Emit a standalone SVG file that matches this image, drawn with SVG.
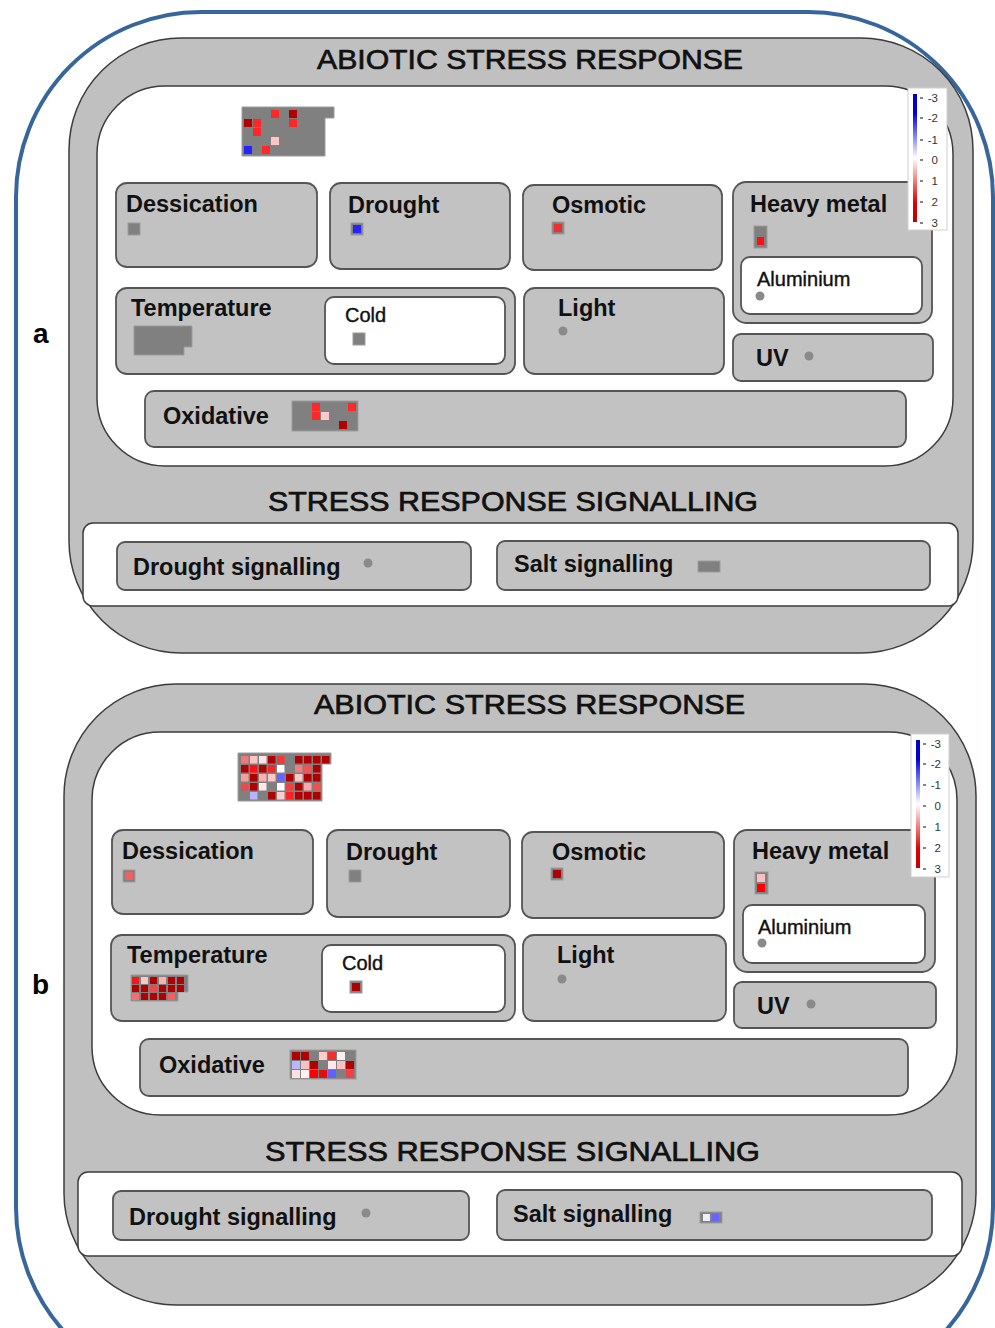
<svg xmlns="http://www.w3.org/2000/svg" width="995" height="1328" viewBox="0 0 995 1328">
<defs>
<linearGradient id="scale" x1="0" y1="0" x2="0" y2="1">
<stop offset="0" stop-color="#0000c0"/>
<stop offset="0.15" stop-color="#0000e0"/>
<stop offset="0.5" stop-color="#ffffff"/>
<stop offset="0.85" stop-color="#e00000"/>
<stop offset="1" stop-color="#c00000"/>
</linearGradient>
<style>
.frame{fill:#fff;stroke:#37669c;stroke-width:4}
.panel{fill:#c0c0c0;stroke:#3c3c3c;stroke-width:1.5}
.inner{fill:#fff;stroke:#3c3c3c;stroke-width:1.5}
.node{fill:#c2c2c2;stroke:#555;stroke-width:1.8}
.sub{fill:#fff;stroke:#555;stroke-width:1.8}
.lbl{font-family:"Liberation Sans",Arial,sans-serif;font-weight:bold;font-size:23.5px;fill:#111}
.sl{font-family:"Liberation Sans",Arial,sans-serif;font-size:20px;fill:#111;stroke:#111;stroke-width:0.4}
.title{font-family:"Liberation Sans",Arial,sans-serif;font-size:28px;fill:#111;stroke:#111;stroke-width:0.7}
.big{font-family:"Liberation Sans",Arial,sans-serif;font-weight:bold;font-size:28px;fill:#000}
.hm{fill:#808080;stroke:#9c9c9c;stroke-width:1}
.dot{fill:#8a8a8a}
.leg{fill:#fff;stroke:#cfcfcf;stroke-width:1}
.lt{font-family:"Liberation Sans",Arial,sans-serif;font-size:11.5px;fill:#333;text-anchor:end}
.tk{stroke:#333;stroke-width:1.2}
.dr{fill:#b00000}.r{fill:#ff2828}
</style>
</defs>
<rect class="frame" x="16" y="12" width="977" height="1380" rx="185"/>
<text class="big" x="33" y="343">a</text>
<text class="big" x="32" y="994">b</text>
<g id="connectors"/>

<!-- PANEL A -->
<g id="panel-a">
<rect class="panel" x="69" y="38" width="904" height="615" rx="112"/>
<rect class="inner" x="97" y="86" width="856" height="380" rx="68"/>
<text class="title" x="317" y="69" textLength="426" lengthAdjust="spacingAndGlyphs">ABIOTIC STRESS RESPONSE</text>
<text class="title" x="268" y="511" textLength="490" lengthAdjust="spacingAndGlyphs">STRESS RESPONSE SIGNALLING</text>
<rect class="inner" x="83" y="523" width="875" height="83" rx="10"/>
</g>
<g id="a-heatmap">
<polygon class="hm" points="242,107 334,107 334,118 325,118 325,156 242,156"/>
<rect class="r" x="271" y="110" width="8" height="8"/>
<rect class="dr" x="289" y="110" width="8" height="8"/>
<rect class="dr" x="244" y="119" width="8" height="8"/>
<rect class="r" x="253" y="119" width="8" height="8"/>
<rect class="r" x="289" y="119" width="8" height="8"/>
<rect class="r" x="253" y="128" width="8" height="8"/>
<rect fill="#ffc4c4" x="271" y="137" width="8" height="8"/>
<rect fill="#2424ff" x="244" y="146" width="8" height="8"/>
<rect class="r" x="262" y="146" width="8" height="8"/>
</g>
<g id="a-dessication">
<rect class="node" x="116" y="183" width="201" height="84" rx="11"/>
<text class="lbl" x="126" y="212">Dessication</text>
<rect class="hm" x="128" y="223" width="12" height="12"/>
</g>
<g id="a-drought">
<rect class="node" x="330" y="183" width="180" height="86" rx="11"/>
<text class="lbl" x="348" y="213">Drought</text>
<rect class="hm" x="351" y="223" width="12" height="12"/>
<rect fill="#2424ff" x="353" y="225" width="8" height="8"/>
</g>
<g id="a-osmotic">
<rect class="node" x="523" y="185" width="199" height="85" rx="11"/>
<text class="lbl" x="552" y="213">Osmotic</text>
<rect class="hm" x="552" y="222" width="12" height="12"/>
<rect fill="#f03030" x="554" y="224" width="8" height="8"/>
</g>
<g id="a-heavymetal">
<rect class="node" x="733" y="182" width="199" height="141" rx="13"/>
<text class="lbl" x="750" y="212">Heavy metal</text>
<rect class="hm" x="754" y="226" width="13" height="22"/>
<rect fill="#ff1010" x="757" y="237" width="7" height="8"/>
</g>
<g id="a-aluminium">
<rect class="sub" x="741" y="257" width="181" height="57" rx="9"/>
<text class="sl" x="757" y="286">Aluminium</text>
<circle class="dot" cx="760" cy="296" r="4.5"/>
</g>
<g id="a-temperature">
<rect class="node" x="116" y="288" width="399" height="86" rx="11"/>
<text class="lbl" x="131" y="316">Temperature</text>
<polygon class="hm" points="134,326 192,326 192,347 184,347 184,355 134,355"/>
</g>
<g id="a-cold">
<rect class="sub" x="325" y="297" width="180" height="67" rx="9"/>
<text class="sl" x="345" y="322">Cold</text>
<rect class="hm" x="353" y="333" width="12" height="12"/>
</g>
<g id="a-light">
<rect class="node" x="524" y="288" width="200" height="86" rx="11"/>
<text class="lbl" x="558" y="316">Light</text>
<circle class="dot" cx="563" cy="331" r="4.5"/>
</g>
<g id="a-uv">
<rect class="node" x="733" y="334" width="200" height="47" rx="8"/>
<text class="lbl" x="756" y="366">UV</text>
<circle class="dot" cx="809" cy="356" r="4.5"/>
</g>
<g id="a-oxidative">
<rect class="node" x="145" y="391" width="761" height="56" rx="9"/>
<text class="lbl" x="163" y="424">Oxidative</text>
<rect class="hm" x="292" y="401" width="66" height="30"/>
<rect class="r" x="312" y="403" width="8" height="8"/>
<rect class="r" x="348" y="403" width="8" height="8"/>
<rect class="r" x="312" y="412" width="8" height="8"/>
<rect fill="#ffc8c8" x="321" y="412" width="8" height="8"/>
<rect class="dr" x="339" y="421" width="8" height="8"/>
</g>
<g id="a-drought-signalling">
<rect class="node" x="117" y="542" width="354" height="48" rx="8"/>
<text class="lbl" x="133" y="575">Drought signalling</text>
<circle class="dot" cx="368" cy="563" r="4.5"/>
</g>
<g id="a-salt-signalling">
<rect class="node" x="497" y="541" width="433" height="49" rx="8"/>
<text class="lbl" x="514" y="572">Salt signalling</text>
<rect class="hm" x="698" y="561" width="22" height="11"/>
</g>
<g id="a-legend">
<rect class="leg" x="908" y="88" width="39" height="142"/>
<rect x="913" y="94" width="4" height="128" fill="url(#scale)"/>
<g class="tk">
<line x1="920" y1="98" x2="923" y2="98"/><line x1="920" y1="118" x2="923" y2="118"/><line x1="920" y1="140" x2="923" y2="140"/><line x1="920" y1="160" x2="923" y2="160"/><line x1="920" y1="181" x2="923" y2="181"/><line x1="920" y1="202" x2="923" y2="202"/><line x1="920" y1="223" x2="923" y2="223"/>
</g>
<text class="lt" x="938" y="102">-3</text><text class="lt" x="938" y="122">-2</text><text class="lt" x="938" y="144">-1</text><text class="lt" x="938" y="164">0</text><text class="lt" x="938" y="185">1</text><text class="lt" x="938" y="206">2</text><text class="lt" x="938" y="227">3</text>
</g>

<!-- PANEL B -->
<g id="panel-b">
<rect class="panel" x="64" y="684" width="912" height="621" rx="112"/>
<rect class="inner" x="92" y="732" width="865" height="383" rx="68"/>
<text class="title" x="314" y="714" textLength="431" lengthAdjust="spacingAndGlyphs">ABIOTIC STRESS RESPONSE</text>
<text class="title" x="265" y="1161" textLength="495" lengthAdjust="spacingAndGlyphs">STRESS RESPONSE SIGNALLING</text>
<rect class="inner" x="78" y="1172" width="884" height="84" rx="10"/>
</g>
<g id="b-heatmap">
<polygon class="hm" points="238,753 331,753 331,764 322,764 322,801 238,801"/>
<rect fill="#f07878" x="241" y="756" width="7.5" height="7.5"/>
<rect fill="#f8c4c4" x="250" y="756" width="7.5" height="7.5"/>
<rect fill="#fde4e4" x="259" y="756" width="7.5" height="7.5"/>
<rect class="dr" x="268" y="756" width="7.5" height="7.5"/>
<rect fill="#f03838" x="277" y="756" width="7.5" height="7.5"/>
<rect class="dr" x="295" y="756" width="7.5" height="7.5"/>
<rect class="dr" x="304" y="756" width="7.5" height="7.5"/>
<rect class="dr" x="313" y="756" width="7.5" height="7.5"/>
<rect class="dr" x="322" y="756" width="7.5" height="7.5"/>
<rect class="dr" x="241" y="765" width="7.5" height="7.5"/>
<rect fill="#ff1010" x="250" y="765" width="7.5" height="7.5"/>
<rect class="dr" x="259" y="765" width="7.5" height="7.5"/>
<rect fill="#f02828" x="268" y="765" width="7.5" height="7.5"/>
<rect fill="#ffffff" x="277" y="765" width="7.5" height="7.5"/>
<rect fill="#f07c7c" x="295" y="765" width="7.5" height="7.5"/>
<rect fill="#f05454" x="304" y="765" width="7.5" height="7.5"/>
<rect class="dr" x="313" y="765" width="7.5" height="7.5"/>
<rect fill="#f0a0a0" x="241" y="774" width="7.5" height="7.5"/>
<rect class="dr" x="250" y="774" width="7.5" height="7.5"/>
<rect fill="#f8b0b0" x="259" y="774" width="7.5" height="7.5"/>
<rect fill="#fbc8c8" x="268" y="774" width="7.5" height="7.5"/>
<rect fill="#6464ff" x="277" y="774" width="7.5" height="7.5"/>
<rect class="dr" x="286" y="774" width="7.5" height="7.5"/>
<rect fill="#fbc8c8" x="295" y="774" width="7.5" height="7.5"/>
<rect class="dr" x="304" y="774" width="7.5" height="7.5"/>
<rect class="dr" x="313" y="774" width="7.5" height="7.5"/>
<rect fill="#f04848" x="241" y="783" width="7.5" height="7.5"/>
<rect class="dr" x="250" y="783" width="7.5" height="7.5"/>
<rect fill="#ffe8e8" x="259" y="783" width="7.5" height="7.5"/>
<rect fill="#ffffff" x="277" y="783" width="7.5" height="7.5"/>
<rect fill="#f04040" x="286" y="783" width="7.5" height="7.5"/>
<rect class="dr" x="295" y="783" width="7.5" height="7.5"/>
<rect fill="#f8a8a8" x="304" y="783" width="7.5" height="7.5"/>
<rect fill="#f05050" x="313" y="783" width="7.5" height="7.5"/>
<rect fill="#b4b4ff" x="250" y="792" width="7.5" height="7.5"/>
<rect class="dr" x="268" y="792" width="7.5" height="7.5"/>
<rect fill="#ffcccc" x="277" y="792" width="7.5" height="7.5"/>
<rect fill="#ff2020" x="286" y="792" width="7.5" height="7.5"/>
<rect class="dr" x="295" y="792" width="7.5" height="7.5"/>
<rect class="dr" x="304" y="792" width="7.5" height="7.5"/>
<rect class="dr" x="313" y="792" width="7.5" height="7.5"/>
</g>
<g id="b-dessication">
<rect class="node" x="112" y="830" width="201" height="84" rx="11"/>
<text class="lbl" x="122" y="859">Dessication</text>
<rect class="hm" x="123" y="870" width="12" height="12"/>
<rect fill="#f06060" x="125" y="872" width="8" height="8"/>
</g>
<g id="b-drought">
<rect class="node" x="327" y="830" width="183" height="87" rx="11"/>
<text class="lbl" x="346" y="860">Drought</text>
<rect class="hm" x="349" y="870" width="12" height="12"/>
</g>
<g id="b-osmotic">
<rect class="node" x="522" y="832" width="202" height="86" rx="11"/>
<text class="lbl" x="552" y="860">Osmotic</text>
<rect class="hm" x="551" y="868" width="12" height="12"/>
<rect class="dr" x="553" y="870" width="8" height="8"/>
</g>
<g id="b-heavymetal">
<rect class="node" x="734" y="830" width="201" height="142" rx="13"/>
<text class="lbl" x="752" y="859">Heavy metal</text>
<rect class="hm" x="755" y="872" width="13" height="22"/>
<rect fill="#f8c0c0" x="757" y="874" width="8" height="8"/>
<rect fill="#ff0000" x="757" y="884" width="8" height="8"/>
</g>
<g id="b-aluminium">
<rect class="sub" x="743" y="905" width="182" height="58" rx="9"/>
<text class="sl" x="758" y="934">Aluminium</text>
<circle class="dot" cx="762" cy="943" r="4.5"/>
</g>
<g id="b-temperature">
<rect class="node" x="111" y="935" width="404" height="86" rx="11"/>
<text class="lbl" x="127" y="963">Temperature</text>
<polygon class="hm" points="131,975 188,975 188,992 178,992 178,1001 131,1001"/>
<rect fill="#f01818" x="132" y="977" width="7" height="7"/>
<rect fill="#f8c8c8" x="141" y="977" width="7" height="7"/>
<rect class="dr" x="150" y="977" width="7" height="7"/>
<rect fill="#f8b0b0" x="159" y="977" width="7" height="7"/>
<rect class="dr" x="168" y="977" width="7" height="7"/>
<rect class="dr" x="177" y="977" width="7" height="7"/>
<rect class="dr" x="132" y="985" width="7" height="7"/>
<rect class="dr" x="141" y="985" width="7" height="7"/>
<rect fill="#f04848" x="150" y="985" width="7" height="7"/>
<rect class="dr" x="159" y="985" width="7" height="7"/>
<rect class="dr" x="168" y="985" width="7" height="7"/>
<rect class="dr" x="177" y="985" width="7" height="7"/>
<rect fill="#f07070" x="132" y="993" width="7" height="7"/>
<rect class="dr" x="141" y="993" width="7" height="7"/>
<rect class="dr" x="150" y="993" width="7" height="7"/>
<rect class="dr" x="159" y="993" width="7" height="7"/>
<rect fill="#f06060" x="168" y="993" width="7" height="7"/>
</g>
<g id="b-cold">
<rect class="sub" x="322" y="945" width="183" height="67" rx="9"/>
<text class="sl" x="342" y="970">Cold</text>
<rect class="hm" x="350" y="981" width="12" height="12"/>
<rect class="dr" x="352" y="983" width="8" height="8"/>
</g>
<g id="b-light">
<rect class="node" x="523" y="935" width="203" height="86" rx="11"/>
<text class="lbl" x="557" y="963">Light</text>
<circle class="dot" cx="562" cy="979" r="4.5"/>
</g>
<g id="b-uv">
<rect class="node" x="734" y="982" width="202" height="46" rx="8"/>
<text class="lbl" x="757" y="1014">UV</text>
<circle class="dot" cx="811" cy="1004" r="4.5"/>
</g>
<g id="b-oxidative">
<rect class="node" x="140" y="1039" width="768" height="57" rx="9"/>
<text class="lbl" x="159" y="1073">Oxidative</text>
<rect class="hm" x="290" y="1050" width="66" height="29"/>
<rect class="dr" x="292" y="1052" width="8" height="8"/>
<rect class="dr" x="301" y="1052" width="8" height="8"/>
<rect fill="#ffcccc" x="319" y="1052" width="8" height="8"/>
<rect fill="#f03030" x="328" y="1052" width="8" height="8"/>
<rect fill="#fff0f0" x="337" y="1052" width="8" height="8"/>
<rect fill="#b8b8ff" x="292" y="1061" width="8" height="8"/>
<rect fill="#f8c0c0" x="301" y="1061" width="8" height="8"/>
<rect class="dr" x="310" y="1061" width="8" height="8"/>
<rect fill="#ffe8e8" x="328" y="1061" width="8" height="8"/>
<rect fill="#f8c0c0" x="337" y="1061" width="8" height="8"/>
<rect class="dr" x="346" y="1061" width="8" height="8"/>
<rect fill="#ffe0e0" x="292" y="1070" width="8" height="8"/>
<rect fill="#fff0f0" x="301" y="1070" width="8" height="8"/>
<rect fill="#ff0000" x="310" y="1070" width="8" height="8"/>
<rect fill="#e01010" x="319" y="1070" width="8" height="8"/>
<rect fill="#6060ff" x="328" y="1070" width="8" height="8"/>
<rect fill="#f04040" x="346" y="1070" width="8" height="8"/>
</g>
<g id="b-drought-signalling">
<rect class="node" x="113" y="1191" width="356" height="49" rx="8"/>
<text class="lbl" x="129" y="1225">Drought signalling</text>
<circle class="dot" cx="366" cy="1213" r="4.5"/>
</g>
<g id="b-salt-signalling">
<rect class="node" x="497" y="1190" width="435" height="50" rx="8"/>
<text class="lbl" x="513" y="1222">Salt signalling</text>
<rect class="hm" x="700" y="1212" width="22" height="11"/>
<rect fill="#eeeeff" x="703" y="1214" width="7" height="7"/>
<rect fill="#6666ff" x="712" y="1214" width="7" height="7"/>
</g>
<g id="b-legend">
<rect class="leg" x="911" y="734" width="38" height="143"/>
<rect x="916" y="740" width="4" height="128" fill="url(#scale)"/>
<g class="tk">
<line x1="923" y1="744" x2="926" y2="744"/><line x1="923" y1="764" x2="926" y2="764"/><line x1="923" y1="785" x2="926" y2="785"/><line x1="923" y1="806" x2="926" y2="806"/><line x1="923" y1="827" x2="926" y2="827"/><line x1="923" y1="848" x2="926" y2="848"/><line x1="923" y1="869" x2="926" y2="869"/>
</g>
<text class="lt" x="941" y="748">-3</text><text class="lt" x="941" y="768">-2</text><text class="lt" x="941" y="789">-1</text><text class="lt" x="941" y="810">0</text><text class="lt" x="941" y="831">1</text><text class="lt" x="941" y="852">2</text><text class="lt" x="941" y="873">3</text>
</g>
</svg>
